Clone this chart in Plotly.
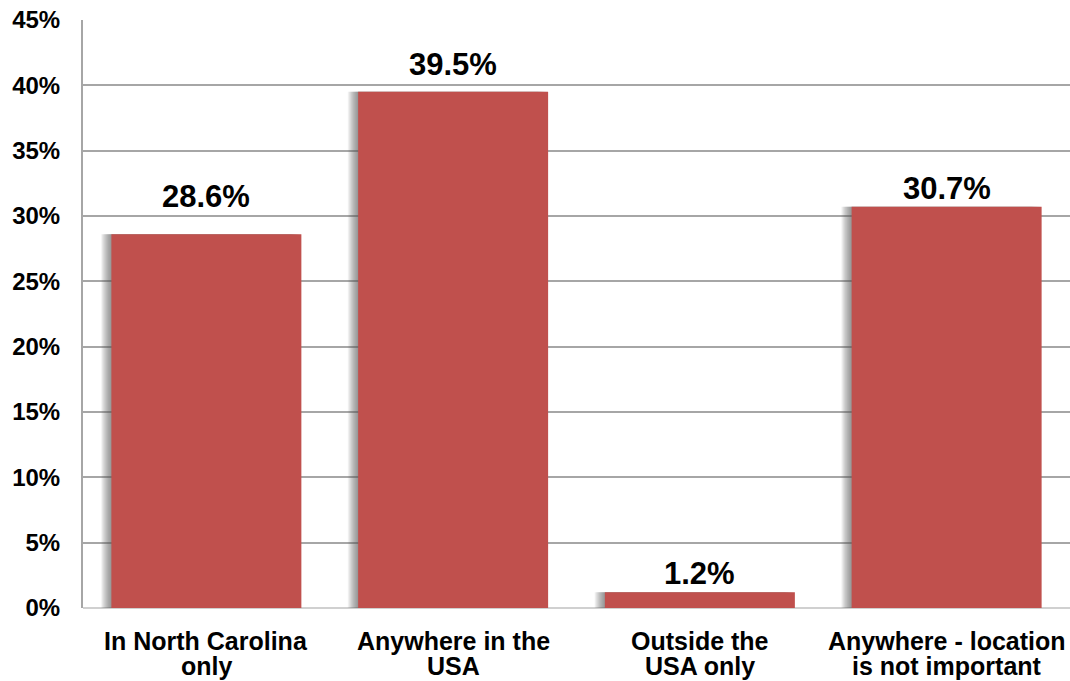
import plotly.graph_objects as go

# Survey responses: preferred job location
categories = ["In North Carolina only", "Anywhere in the USA",
              "Outside the USA only", "Anywhere - location is not important"]
label_lines = [["In North Carolina", "only"],
               ["Anywhere in the", "USA"],
               ["Outside the", "USA only"],
               ["Anywhere - location", "is not important"]]
shares = [28.6, 39.5, 1.2, 30.7]
y_ticks = [0, 5, 10, 15, 20, 25, 30, 35, 40, 45]

# vertical lift (px) of each value label above its bar
label_lift = [38, 27, 19, 18]

BAR_RED = "#C0504D"
GRID = "#A6A6A6"
FONT = "Arial, Liberation Sans, sans-serif"
BAR_W = 0.77

fig = go.Figure()

# soft drop shadow to the left of each bar, built from stacked translucent layers
for k in range(12):
    shift = 0.003 + 0.0035 * k
    fig.add_trace(go.Bar(
        x=categories, y=shares, width=BAR_W, offset=-BAR_W / 2 - shift,
        marker=dict(color="rgba(80,80,80,0.07)", line=dict(width=0)),
        hoverinfo="skip", showlegend=False,
    ))

fig.add_trace(go.Bar(
    x=categories, y=shares, width=BAR_W, offset=-BAR_W / 2,
    marker=dict(color=BAR_RED, line=dict(width=0)),
    showlegend=False,
))

# value labels above the bars
for cat, v, lift in zip(categories, shares, label_lift):
    fig.add_annotation(
        x=cat, y=v, xref="x", yref="y", text=f"<b>{v:.1f}%</b>",
        showarrow=False, yanchor="middle", yshift=lift,
        font=dict(family=FONT, size=31, color="#000000"),
    )

# two-line category labels with tight leading
for cat, lines in zip(categories, label_lines):
    for i, line in enumerate(lines):
        fig.add_annotation(
            x=cat, y=0, xref="x", yref="paper", text=f"<b>{line}</b>",
            showarrow=False, yanchor="middle", yshift=-33 - 25 * i,
            font=dict(family=FONT, size=25, color="#000000"),
        )

fig.update_layout(
    width=1070, height=681,
    margin=dict(l=83, r=0, t=20, b=73),
    paper_bgcolor="white", plot_bgcolor="white",
    barmode="overlay",
    font=dict(family=FONT, color="#000000"),
)

fig.update_xaxes(
    showticklabels=False, showgrid=False, zeroline=False,
    showline=False, ticks="",
)

fig.update_yaxes(
    range=[0, 45], tickvals=y_ticks,
    ticktext=[f"<b>{t}%</b>" for t in y_ticks],
    tickfont=dict(family=FONT, size=24, color="#000000"),
    ticklabelstandoff=16,
    showgrid=True, gridcolor=GRID, gridwidth=2,
    zeroline=True, zerolinecolor="#D0D0D0", zerolinewidth=2,
    showline=True, linecolor=GRID, linewidth=2,
    ticks="",
)

fig.write_html("out.html")
